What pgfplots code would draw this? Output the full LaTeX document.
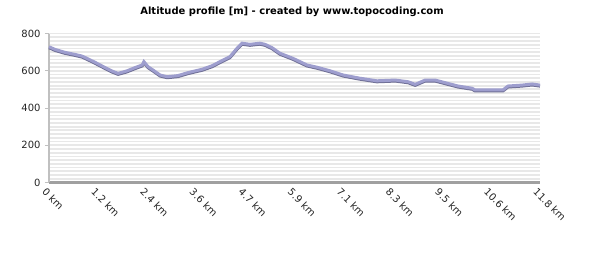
\documentclass[border=0pt]{standalone}
\usepackage{fontspec}
\setmainfont{DejaVu Sans}
\usepackage{pgfplots}
\pgfplotsset{compat=1.18}
\definecolor{stripe}{RGB}{232,232,232}
\definecolor{lineA}{RGB}{158,158,206}
\definecolor{lineB}{RGB}{112,112,150}
\definecolor{axisL}{RGB}{192,192,192}
\definecolor{axisB}{RGB}{160,160,160}
\begin{document}
\begin{tikzpicture}
\fill[white] (0,0) rectangle (599bp,266bp);
\node[font=\bfseries\fontsize{10}{11}\selectfont] at (292bp,254bp) {Altitude profile [m] - created by www.topocoding.com};
\begin{axis}[
  at={(49bp,83.5bp)}, anchor=south west,
  scale only axis, width=491bp, height=149bp,
  xmin=0, xmax=11.8, ymin=0, ymax=800,
  separate axis lines,
  axis x line*=bottom, axis y line*=left,
  x axis line style={axisB, line width=3bp, -},
  y axis line style={axisL, line width=2bp, -},
  ytick={0,200,400,600,800},
  minor y tick num=9,
  ymajorgrids, yminorgrids,
  major grid style={stripe, line width=1.8bp},
  minor grid style={stripe, line width=1.8bp},
  xtick={0,1.18,2.36,3.54,4.72,5.9,7.08,8.26,9.44,10.62,11.8},
  xticklabels={0 km,1.2 km,2.4 km,3.6 km,4.7 km,5.9 km,7.1 km,8.3 km,9.5 km,10.6 km,11.8 km},
  xtick style={draw=none},
  ytick style={axisL, line width=1bp},
  tick align=outside, major tick length=4bp, minor tick length=0pt,
  tick label style={font=\fontsize{10}{11}\selectfont, text=black!85},
  /pgf/number format/assume math mode=true,
  xticklabel style={rotate=-45, anchor=north west, inner sep=1bp, xshift=-2bp, yshift=-1bp},
  yticklabel style={xshift=-1bp},
  clip=false,
]
\addplot[lineB, line width=3bp, yshift=-1bp] table {
x y
0 729
0.14 715
0.38 699
0.62 688
0.79 679
0.91 667
1.11 645
1.35 617
1.51 599
1.66 586
1.87 599
2.07 617
2.24 631
2.28 649
2.38 622
2.50 604
2.67 577
2.84 568
3.10 574
3.34 590
3.68 608
3.92 627
4.11 649
4.35 676
4.52 721
4.64 748
4.83 742
5.07 748
5.19 742
5.36 724
5.55 694
5.86 667
6.20 631
6.44 619
6.75 600
7.07 577
7.47 560
7.88 546
8.32 550
8.63 541
8.80 527
9.04 550
9.28 550
9.52 536
9.83 518
10.17 506
10.24 497
10.91 497
11.03 518
11.37 523
11.61 529
11.80 523
};
\addplot[lineA, line width=3bp] table {
x y
0 729
0.14 715
0.38 699
0.62 688
0.79 679
0.91 667
1.11 645
1.35 617
1.51 599
1.66 586
1.87 599
2.07 617
2.24 631
2.28 649
2.38 622
2.50 604
2.67 577
2.84 568
3.10 574
3.34 590
3.68 608
3.92 627
4.11 649
4.35 676
4.52 721
4.64 748
4.83 742
5.07 748
5.19 742
5.36 724
5.55 694
5.86 667
6.20 631
6.44 619
6.75 600
7.07 577
7.47 560
7.88 546
8.32 550
8.63 541
8.80 527
9.04 550
9.28 550
9.52 536
9.83 518
10.17 506
10.24 497
10.91 497
11.03 518
11.37 523
11.61 529
11.80 523
};
\end{axis}
\end{tikzpicture}
\end{document}
